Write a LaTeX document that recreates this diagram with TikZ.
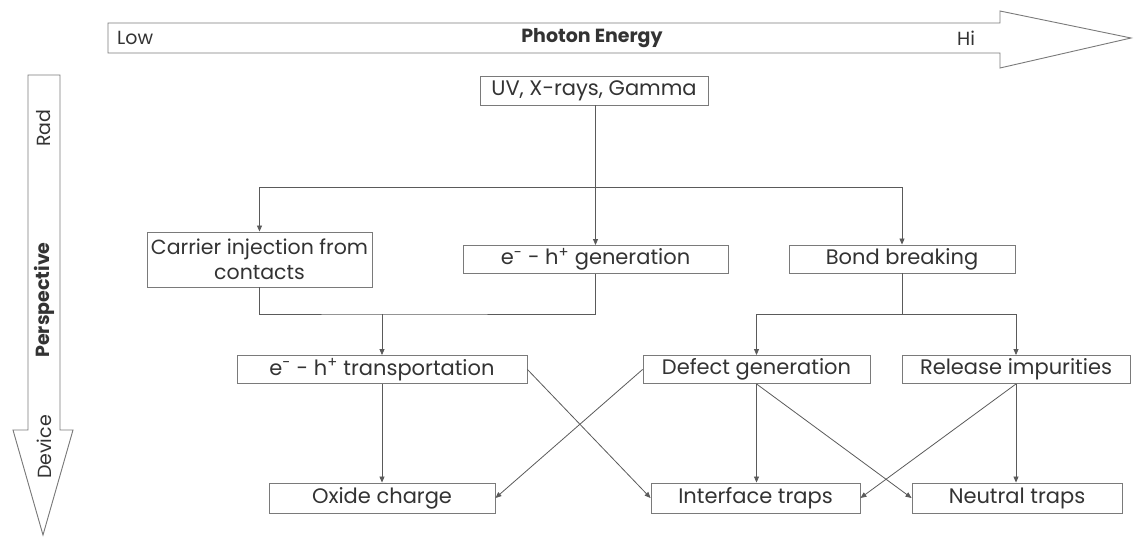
\documentclass[tikz,border=0pt]{standalone}
\usepackage{fontspec}
\setmainfont{Poppins}
\usetikzlibrary{arrows.meta}
\definecolor{boxgray}{HTML}{7A7A7A}
\definecolor{linegray}{HTML}{5A5A5A}
\definecolor{txt}{HTML}{333333}
\begin{document}
\begin{tikzpicture}[x=1pt,y=-1pt,
  box/.style={draw=boxgray, line width=0.9pt, fill=white, text=txt,
    font=\fontsize{21}{24}\selectfont, inner sep=0pt, minimum height=28pt, align=center},
  conn/.style={draw=linegray, line width=0.8pt, -{Triangle[length=6pt,width=5pt]}},
  plain/.style={draw=linegray, line width=0.8pt},
  bigarrow/.style={draw=boxgray, line width=0.9pt, fill=white},
  lbl/.style={text=txt, font=\fontsize{19}{22}\selectfont, inner sep=0pt}]
\useasboundingbox (0,0) rectangle (1134,538);
% big arrows
\draw[bigarrow] (108,23) -- (1000,23) -- (1000,11) -- (1131,38) -- (1000,68) -- (1000,53) -- (108,53) -- cycle;
\draw[bigarrow] (28,75) -- (60,75) -- (60,430) -- (73,430) -- (43,535) -- (13,430) -- (28,430) -- cycle;
\node[lbl, anchor=west] (low) at (117,38) {Low};
\node[lbl, font=\fontsize{19}{22}\selectfont\bfseries] (pe) at (592,38) {Photon Energy};
\node[lbl] (hi) at (966,38) {Hi};
\node[lbl, rotate=90] (rad) at (44,128) {Rad};
\node[lbl, rotate=90, font=\fontsize{19}{22}\selectfont\bfseries] (persp) at (44,300) {Perspective};
\node[lbl, rotate=90] (dev) at (44,447) {Device};
% nodes
\node[box, minimum width=228pt, minimum height=29pt] (uv) at (594,90.5) {UV, X-rays, Gamma};
\node[box, minimum width=225pt, minimum height=55pt, font=\fontsize{20.5}{25}\selectfont] (carrier) at (259.5,259.5) {Carrier injection from\\contacts};
\node[box, minimum width=265pt] (gen) at (595.5,259.5) {e\textsuperscript{-} - h\textsuperscript{+} generation};
\node[box, minimum width=226pt] (bond) at (902,259) {Bond breaking};
\node[box, minimum width=290pt] (trans) at (382,369.5) {e\textsuperscript{-} - h\textsuperscript{+} transportation};
\node[box, minimum width=227pt] (defect) at (756.5,369.5) {Defect generation};
\node[box, minimum width=228pt] (release) at (1016,369.5) {Release impurities};
\node[box, minimum width=226pt, minimum height=30pt] (oxide) at (382,498) {Oxide charge};
\node[box, minimum width=209pt, minimum height=30pt] (interface) at (755.5,498) {Interface traps};
\node[box, minimum width=210pt, minimum height=30pt] (neutral) at (1017,498) {Neutral traps};
% connectors
\coordinate (split) at (595.5,187);
\coordinate (merge) at (382,314);
\coordinate (bsplit) at (902,314);
\draw[plain] (uv.south -| split) -- (split);
\draw[conn] (split) -- (gen.north);
\draw[conn] (split) -| (carrier.north);
\draw[conn] (split) -| (bond.north);
\draw[plain] (carrier.south) |- (merge) -| (gen.south);
\draw[conn] (merge) -- (trans.north);
\draw[plain] (bond.south) -- (bsplit);
\draw[conn] (bsplit) -| (defect.north);
\draw[conn] (bsplit) -| (release.north);
\draw[conn] (trans.south) -- (oxide.north);
\draw[conn] (trans.east) -- (interface.west);
\draw[conn] (defect.west) -- (oxide.east);
\draw[conn] (defect.south) -- (defect.south |- interface.north);
\draw[conn] (defect.south) -- (neutral.west);
\draw[conn] (release.south) -- (release.south |- neutral.north);
\draw[conn] (release.south) -- (interface.east);
\end{tikzpicture}
\end{document}
